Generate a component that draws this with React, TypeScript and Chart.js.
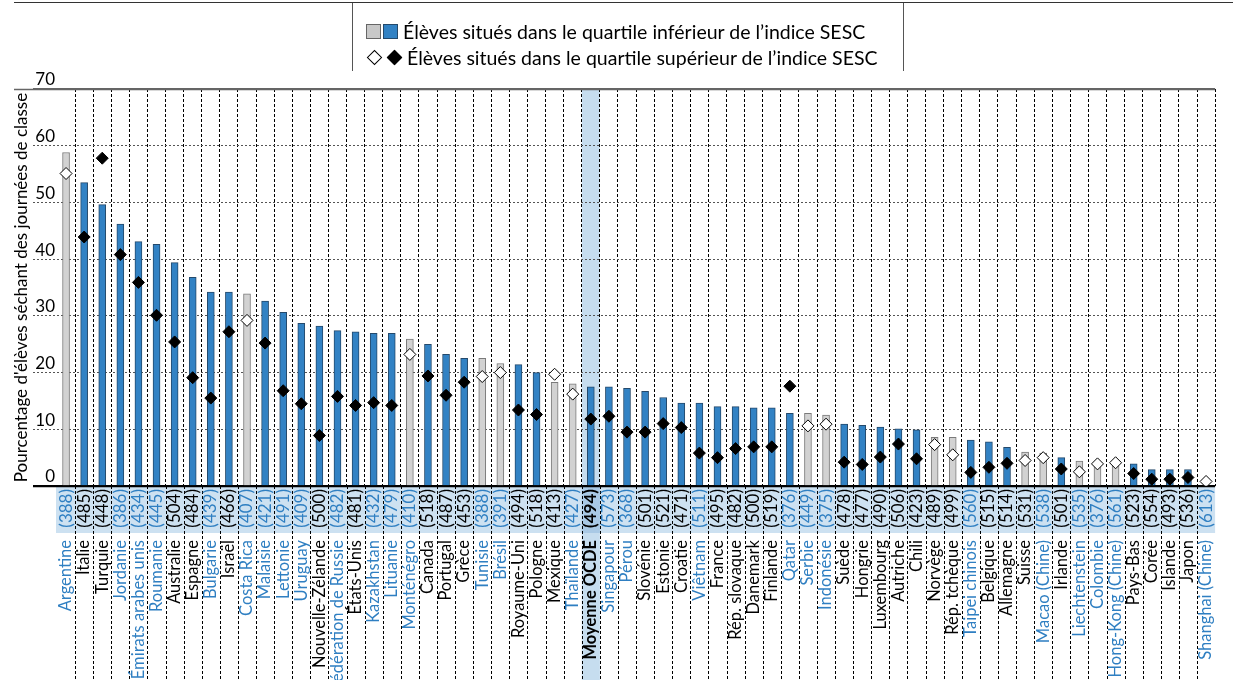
import React, { useEffect, useRef } from "react";
import { Chart, registerables } from "chart.js";

Chart.register(...registerables);

const countries = [
  "Argentine", "Italie", "Turquie", "Jordanie", "Émirats arabes unis", "Roumanie", "Australie", "Espagne",
  "Bulgarie", "Israël", "Costa Rica", "Malaisie", "Lettonie", "Uruguay", "Nouvelle-Zélande", "Fédération de Russie",
  "États-Unis", "Kazakhstan", "Lituanie", "Monténégro", "Canada", "Portugal", "Grèce", "Tunisie",
  "Brésil", "Royaume-Uni", "Pologne", "Mexique", "Thaïlande", "Moyenne OCDE", "Singapour", "Pérou",
  "Slovénie", "Estonie", "Croatie", "Viêtnam", "France", "Rép. slovaque", "Danemark", "Finlande",
  "Qatar", "Serbie", "Indonésie", "Suède", "Hongrie", "Luxembourg", "Autriche", "Chili",
  "Norvège", "Rép. tchèque", "Taipei chinois", "Belgique", "Allemagne", "Suisse", "Macao (Chine)", "Irlande",
  "Liechtenstein", "Colombie", "Hong-Kong (Chine)", "Pays-Bas", "Corée", "Islande", "Japon", "Shanghai (Chine)",
];

const scores = [
  388, 485, 448, 386, 434, 445, 504, 484, 439, 466, 407, 421, 491, 409, 500, 482,
  481, 432, 479, 410, 518, 487, 453, 388, 391, 494, 518, 413, 427, 494, 573, 368,
  501, 521, 471, 511, 495, 482, 500, 519, 376, 449, 375, 478, 477, 490, 506, 423,
  489, 499, 560, 515, 514, 531, 538, 501, 535, 376, 561, 523, 554, 493, 536, 613,
];

// % students skipping days - bottom quartile of ESCS (bars)
const bottomQuartile = [
  58.8, 53.5, 49.6, 46.2, 43.1, 42.6, 39.4, 36.8, 34.2, 34.2, 33.9, 32.6, 30.6, 28.7, 28.2, 27.4,
  27.2, 26.9, 26.9, 25.9, 25.0, 23.2, 22.5, 22.5, 21.6, 21.4, 20.0, 18.3, 18.0, 17.5, 17.5, 17.2,
  16.7, 15.6, 14.6, 14.6, 14.0, 14.0, 13.8, 13.8, 12.8, 12.8, 12.5, 10.9, 10.7, 10.4, 10.1, 9.9,
  8.6, 8.6, 8.1, 7.8, 6.8, 6.0, 5.8, 5.0, 4.4, 3.7, 3.6, 3.9, 2.9, 2.9, 2.9, 0,
];

// % students skipping days - top quartile of ESCS (diamonds)
const topQuartile = [
  55.1, 43.9, 57.8, 40.8, 35.9, 30.1, 25.4, 19.1, 15.5, 27.2, 29.2, 25.2, 16.8, 14.5, 8.9, 15.8,
  14.2, 14.7, 14.2, 23.2, 19.4, 16.0, 18.3, 19.3, 20.0, 13.4, 12.6, 19.7, 16.2, 11.8, 12.3, 9.5,
  9.5, 11.0, 10.3, 5.8, 5.0, 6.6, 6.9, 6.9, 17.6, 10.6, 10.9, 4.2, 3.8, 5.1, 7.4, 4.8,
  7.3, 5.5, 2.4, 3.3, 4.0, 4.5, 5.0, 3.0, 2.5, 3.9, 4.1, 2.2, 1.2, 1.2, 1.5, 0.8,
];

// 1 = statistically significant difference (blue bar / black diamond), 0 = not (grey / white)
const significant = [
  0, 1, 1, 1, 1, 1, 1, 1, 1, 1, 0, 1, 1, 1, 1, 1,
  1, 1, 1, 0, 1, 1, 1, 0, 0, 1, 1, 0, 0, 1, 1, 1,
  1, 1, 1, 1, 1, 1, 1, 1, 1, 0, 0, 1, 1, 1, 1, 1,
  0, 0, 1, 1, 1, 0, 0, 1, 0, 0, 0, 1, 1, 1, 1, 0,
];

// 1 = partner economy (blue label), 0 = OECD country (black label)
const partner = [
  1, 0, 0, 1, 1, 1, 0, 0, 1, 0, 1, 1, 1, 1, 0, 1,
  0, 1, 1, 1, 0, 0, 0, 1, 1, 0, 0, 0, 1, 0, 1, 1,
  0, 0, 0, 1, 0, 0, 0, 0, 1, 1, 1, 0, 0, 0, 0, 0,
  0, 0, 1, 0, 0, 0, 1, 0, 1, 1, 1, 0, 0, 0, 0, 1,
];

const yTicks = [0, 10, 20, 30, 40, 50, 60, 70];
const oecdIndex = countries.indexOf("Moyenne OCDE");

const FONT = "Lato, 'Noto Sans', sans-serif";
const BLUE = "#3282c4";
const LABEL_BLUE = "#2f7fc2";

const extras = {
  id: "extras",
  beforeDraw(chart: any) {
    const { ctx, chartArea, scales } = chart;
    const x = scales.x;
    const n = countries.length;
    const w = (chartArea.right - chartArea.left) / n;
    ctx.save();
    ctx.fillStyle = "#cde1f1";
    ctx.fillRect(chartArea.left - 1, x.top, chartArea.right - chartArea.left + 1, x.bottom - x.top);
    const c = x.getPixelForValue(oecdIndex);
    ctx.fillStyle = "#c6ddef";
    ctx.fillRect(c - w / 2, chartArea.top, w, chart.height - chartArea.top);
    ctx.fillStyle = "#a9c9e5";
    ctx.fillRect(c - w / 2, x.top, w, x.bottom - x.top);
    ctx.strokeStyle = "#000";
    ctx.lineWidth = 1;
    ctx.setLineDash([3, 2]);
    ctx.beginPath();
    for (let i = 1; i < n; i++) {
      const px = Math.round(chartArea.left + i * w) + 0.5;
      ctx.moveTo(px, chartArea.bottom);
      ctx.lineTo(px, chart.height);
    }
    ctx.stroke();
    ctx.restore();
  },
  afterDraw(chart: any) {
    const { ctx, chartArea, scales } = chart;
    const y = Math.round(scales.y.getPixelForValue(70)) + 0.5;
    ctx.save();
    ctx.strokeStyle = "#666";
    ctx.lineWidth = 1.5;
    ctx.beginPath();
    ctx.moveTo(14, y);
    ctx.lineTo(chartArea.right, y);
    ctx.stroke();
    const y0 = Math.round(scales.y.getPixelForValue(0)) + 0.5;
    ctx.strokeStyle = "#000";
    ctx.beginPath();
    ctx.moveTo(33, y0);
    ctx.lineTo(chartArea.right, y0);
    ctx.stroke();
    ctx.restore();
  },
};

function ChartCanvas() {
  const ref = useRef<HTMLCanvasElement | null>(null);
  useEffect(() => {
    if (!ref.current) return;
    const chart = new Chart(ref.current, {
      type: "bar",
      data: {
        labels: scores.map((s) => `(${s})`),
        datasets: [
          {
            type: "line",
            label: "Élèves situés dans le quartile supérieur de l'indice SESC",
            data: topQuartile,
            showLine: false,
            pointStyle: "rectRot",
            pointRadius: 6,
            pointHoverRadius: 6,
            pointBackgroundColor: significant.map((s) => (s ? "#000" : "#fff")),
            pointBorderColor: "#000",
            pointBorderWidth: 1,
            order: 0,
          } as any,
          {
            type: "bar",
            label: "Élèves situés dans le quartile inférieur de l'indice SESC",
            data: bottomQuartile,
            backgroundColor: significant.map((s) => (s ? BLUE : "#d2d2d2")),
            borderColor: significant.map((s) => (s ? "#24496b" : "#7a7a7a")),
            borderWidth: 1,
            barThickness: 7,
            order: 1,
          },
        ],
      },
      options: {
        animation: false,
        responsive: false,
        events: [],
        layout: { padding: { top: 89, left: 0, right: 0, bottom: 0 }, autoPadding: false },
        plugins: { legend: { display: false }, tooltip: { enabled: false } },
        scales: {
          x: {
            type: "category",
            position: "bottom",
            weight: 0,
            offset: true,
            grid: {
              offset: true,
              drawTicks: false,
              color: (ctx: any) => (ctx.index === 0 ? "rgba(0,0,0,0)" : "#000"),
              lineWidth: 1,
            },
            border: { display: false, dash: [3, 2] },
            ticks: {
              autoSkip: false,
              maxRotation: 90,
              minRotation: 90,
              padding: 3,
              font: (ctx: any) => ({ family: FONT, size: 17, weight: ctx.index === oecdIndex ? "bold" : "normal" }),
              color: (ctx: any) => (partner[ctx.index] ? LABEL_BLUE : "#000"),
            },
            afterFit: (s: any) => {
              s.height = 47;
            },
          },
          x2: {
            type: "category",
            labels: countries,
            position: "bottom",
            weight: 1,
            offset: true,
            grid: { display: false, drawOnChartArea: false, drawTicks: false },
            border: { display: false },
            ticks: {
              autoSkip: false,
              maxRotation: 90,
              minRotation: 90,
              padding: 7,
              font: (ctx: any) => ({ family: FONT, size: 16.5, weight: ctx.index === oecdIndex ? "bold" : "normal" }),
              color: (ctx: any) => (partner[ctx.index] ? LABEL_BLUE : "#000"),
            },
            afterFit: (s: any) => {
              s.height = 147;
            },
          },
          y: {
            min: 0,
            max: 70,
            afterBuildTicks: (s: any) => {
              s.ticks = yTicks.map((v) => ({ value: v }));
            },
            grid: {
              color: (ctx: any) => (ctx.tick && ctx.tick.value === 70 ? "#666" : ctx.tick && ctx.tick.value === 0 ? "#000" : "#555"),
              lineWidth: (ctx: any) => (ctx.tick && (ctx.tick.value === 0 || ctx.tick.value === 70) ? 1.5 : 1),
              tickLength: 24,
              tickColor: (ctx: any) => (ctx.tick && ctx.tick.value === 70 ? "#666" : ctx.tick && ctx.tick.value === 0 ? "#000" : "#555"),
              tickBorderDash: (ctx: any) => (ctx.tick && (ctx.tick.value === 0 || ctx.tick.value === 70) ? [] : [2, 2]),
            },
            border: {
              display: false,
              dash: (ctx: any) => (ctx.tick && (ctx.tick.value === 0 || ctx.tick.value === 70) ? [] : [2, 2]),
            },
            ticks: {
              padding: -22,
              labelOffset: -9,
              color: "#000",
              font: { family: FONT, size: 17 },
            },
            title: {
              display: true,
              text: "Pourcentage d'élèves séchant des journées de classe",
              color: "#000",
              font: { family: FONT, size: 17 },
              padding: { top: 11, bottom: 0 },
            },
            afterFit: (s: any) => {
              s.width = 57;
            },
          },
        },
      } as any,
      plugins: [extras],
    });
    return () => chart.destroy();
  }, []);
  return <canvas ref={ref} width={1233} height={680} style={{ position: "absolute", left: 0, top: 0 }} />;
}

const diamond = (fill: string): React.CSSProperties => ({
  width: 9,
  height: 9,
  background: fill,
  border: "1px solid #000",
  transform: "rotate(45deg)",
  display: "inline-block",
  margin: "0 3px",
  flex: "none",
});

const square = (fill: string, border: string): React.CSSProperties => ({
  width: 13,
  height: 13,
  background: fill,
  border: `1px solid ${border}`,
  display: "inline-block",
  marginRight: 2,
  flex: "none",
});

export default function App() {
  useEffect(() => {
    document.body.style.margin = "0";
  }, []);
  const rowStyle: React.CSSProperties = {
    position: "absolute",
    left: 13,
    height: 24,
    display: "flex",
    alignItems: "center",
    fontFamily: FONT,
    fontSize: 19.5,
    color: "#000",
    whiteSpace: "nowrap",
  };
  return (
    <div style={{ position: "relative", width: 1233, height: 680, overflow: "hidden", background: "#fff" }}>
      <ChartCanvas />
      <div style={{ position: "absolute", left: 14, top: 2, width: 1219, borderTop: "1.5px solid #333" }} />
      <div
        style={{
          position: "absolute",
          left: 352,
          top: 3,
          width: 550,
          height: 68,
          borderLeft: "1px solid #555",
          borderRight: "1px solid #555",
        }}
      >
        <div style={{ ...rowStyle, top: 16 }}>
          <span style={square("#c8c8c8", "#666")} />
          <span style={square(BLUE, "#24496b")} />
          <span style={{ marginLeft: 3 }}>Élèves situés dans le quartile inférieur de l’indice SESC</span>
        </div>
        <div style={{ ...rowStyle, top: 42 }}>
          <span style={diamond("#fff")} />
          <span style={{ ...diamond("#000"), marginLeft: 6 }} />
          <span style={{ marginLeft: 4 }}>Élèves situés dans le quartile supérieur de l’indice SESC</span>
        </div>
      </div>
    </div>
  );
}
